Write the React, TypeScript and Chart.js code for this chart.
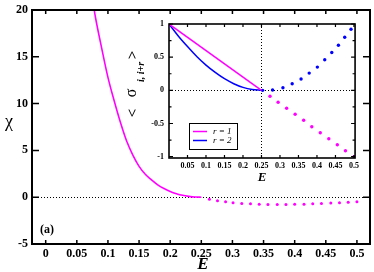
import React, { useEffect, useRef } from "react";
import { Chart, registerables } from "chart.js";
Chart.register(...registerables);

// ---- main panel data ----
const chiLineE = [0.075, 0.08, 0.09, 0.1, 0.11, 0.12, 0.13, 0.14, 0.15, 0.16, 0.17, 0.18, 0.19, 0.2, 0.21, 0.22, 0.23, 0.24, 0.25];
const chiLineV = [21.2, 19.2, 15.9, 12.8, 10.3, 8.0, 6.0, 4.5, 3.3, 2.45, 1.85, 1.32, 0.93, 0.62, 0.38, 0.2, 0.09, 0.02, 0];
const chiDotE = [0.263, 0.276, 0.289, 0.301, 0.315, 0.329, 0.343, 0.357, 0.372, 0.386, 0.4, 0.415, 0.429, 0.443, 0.458, 0.472, 0.486, 0.5];
const chiDotV = [-0.21, -0.39, -0.49, -0.6, -0.67, -0.7, -0.74, -0.77, -0.77, -0.77, -0.74, -0.74, -0.7, -0.67, -0.63, -0.6, -0.53, -0.49];
const mainXTicks = [0, 0.05, 0.1, 0.15, 0.2, 0.25, 0.3, 0.35, 0.4, 0.45, 0.5];
const mainXLabels = ["0", "0.05", "0.1", "0.15", "0.2", "0.25", "0.3", "0.35", "0.4", "0.45", "0.5"];
const mainYTicks = [-5, 0, 5, 10, 15, 20];
const mainYLabels = ["-5", "0", "5", "10", "15", "20"];

// ---- inset data ----
const r1LineE = [0, 0.25];
const r1LineV = [1, 0];
const r2LineE = [0, 0.025, 0.05, 0.075, 0.1, 0.125, 0.15, 0.175, 0.2, 0.225, 0.25];
const r2LineV = [1, 0.82, 0.66, 0.51, 0.38, 0.27, 0.175, 0.1, 0.045, 0.012, 0];
const r1DotE = [0.273, 0.295, 0.318, 0.341, 0.364, 0.386, 0.409, 0.432, 0.455, 0.477, 0.5];
const r1DotV = [-0.09, -0.18, -0.27, -0.36, -0.45, -0.55, -0.64, -0.73, -0.82, -0.91, -1.0];
const r2DotE = [0.253, 0.28, 0.308, 0.333, 0.357, 0.379, 0.401, 0.421, 0.44, 0.458, 0.475, 0.492];
const r2DotV = [0, 0.005, 0.04, 0.1, 0.17, 0.26, 0.35, 0.46, 0.57, 0.68, 0.8, 0.92];
const insetXTicks = [0.05, 0.1, 0.15, 0.2, 0.25, 0.3, 0.35, 0.4, 0.45, 0.5];
const insetXLabels = ["0.05", "0.1", "0.15", "0.2", "0.25", "0.3", "0.35", "0.4", "0.45", "0.5"];
const insetYTicks = [-1, -0.5, 0, 0.5, 1];
const insetYLabels = ["-1", "-0.5", "0", "0.5", "1"];
const insetYMinor = [-0.75, -0.25, 0.25, 0.75];
const legendLabels = ["r = 1", "r = 2"];

const MAGENTA = "#ff00ff";
const BLUE = "#0000ff";
const SERIF = "'Liberation Serif', 'Times New Roman', serif";

const pts = (xs: number[], ys: number[]) => xs.map((x, i) => ({ x, y: ys[i] }));

function framePlugin(cfg: any) {
  return {
    id: "frame_" + cfg.name,
    beforeDatasetsDraw(chart: any) {
      const { ctx, chartArea: a, scales } = chart;
      const x = scales.x, y = scales.y;
      ctx.save();
      ctx.strokeStyle = "#000";
      ctx.lineWidth = 1;
      ctx.setLineDash([1, 2]);
      ctx.beginPath();
      const y0 = Math.round(y.getPixelForValue(0)) + 0.5;
      ctx.moveTo(a.left, y0);
      ctx.lineTo(a.right, y0);
      if (cfg.vline !== undefined) {
        const xv = Math.round(x.getPixelForValue(cfg.vline)) + 0.5;
        ctx.moveTo(xv, a.top);
        ctx.lineTo(xv, a.bottom);
      }
      ctx.stroke();
      ctx.restore();
    },
    afterDatasetsDraw(chart: any) {
      const { ctx, chartArea: a, scales } = chart;
      const x = scales.x, y = scales.y;
      ctx.save();
      ctx.strokeStyle = "#000";
      ctx.lineWidth = cfg.tickW;
      ctx.beginPath();
      for (const v of cfg.xTicks) {
        const px = x.getPixelForValue(v);
        ctx.moveTo(px, a.bottom); ctx.lineTo(px, a.bottom - cfg.xLen);
        ctx.moveTo(px, a.top); ctx.lineTo(px, a.top + cfg.xLen);
      }
      for (const v of cfg.yTicks) {
        const py = y.getPixelForValue(v);
        ctx.moveTo(a.left, py); ctx.lineTo(a.left + cfg.yLen, py);
        ctx.moveTo(a.right, py); ctx.lineTo(a.right - cfg.yLen, py);
      }
      for (const v of cfg.yMinor || []) {
        const py = y.getPixelForValue(v);
        ctx.moveTo(a.left, py); ctx.lineTo(a.left + cfg.minorLen, py);
        ctx.moveTo(a.right, py); ctx.lineTo(a.right - cfg.minorLen, py);
      }
      ctx.stroke();
      ctx.lineWidth = cfg.frameW;
      ctx.strokeRect(a.left, a.top, a.right - a.left, a.bottom - a.top);
      ctx.restore();
    },
  };
}

const mainText = {
  id: "mainText",
  afterDraw(chart: any) {
    const { ctx, chartArea: a } = chart;
    ctx.save();
    ctx.fillStyle = "#000";
    ctx.textAlign = "center";
    ctx.textBaseline = "middle";
    ctx.font = `18px ${SERIF}`;
    ctx.fillText("χ", 9, 122);
    ctx.font = `italic bold 17px ${SERIF}`;
    ctx.fillText("E", (a.left + a.right) / 2 + 2, 265);
    ctx.font = `bold 12px ${SERIF}`;
    ctx.fillText("(a)", 47, 230);
    ctx.restore();
  },
};

const insetText = {
  id: "insetText",
  afterDraw(chart: any) {
    const { ctx, chartArea: a } = chart;
    ctx.save();
    ctx.fillStyle = "#000";
    ctx.textAlign = "center";
    ctx.textBaseline = "middle";
    ctx.font = `italic bold 13px ${SERIF}`;
    ctx.fillText("E", (a.left + a.right) / 2, 163);
    // rotated y title: < σ_{i, i+r} >
    const piece = (t: string, px: number, py: number, font: string) => {
      ctx.save();
      ctx.translate(px, py);
      ctx.rotate(-Math.PI / 2);
      ctx.font = font;
      ctx.fillText(t, 0, 0);
      ctx.restore();
    };
    piece("<", 15, 98, `bold 15px ${SERIF}`);
    piece("σ", 14, 78, `16px ${SERIF}`);
    piece("i, i+r", 23, 57, `italic bold 10px ${SERIF}`);
    piece(">", 15, 40, `bold 15px ${SERIF}`);
    // legend box
    const bx = 71, by = 108, bw = 48, bh = 26;
    ctx.fillStyle = "#fff";
    ctx.fillRect(bx, by, bw, bh);
    ctx.strokeStyle = "#000";
    ctx.lineWidth = 1;
    ctx.strokeRect(bx + 0.5, by + 0.5, bw, bh);
    const cols = [MAGENTA, BLUE];
    legendLabels.forEach((lab, i) => {
      const ly = by + 8.5 + i * 9;
      ctx.strokeStyle = cols[i];
      ctx.lineWidth = 1.5;
      ctx.beginPath();
      ctx.moveTo(bx + 4, ly);
      ctx.lineTo(bx + 18, ly);
      ctx.stroke();
      ctx.fillStyle = "#000";
      ctx.textAlign = "left";
      ctx.font = `italic 9px ${SERIF}`;
      ctx.fillText(lab, bx + 24, ly + 0.5);
    });
    ctx.restore();
  },
};

export default function App() {
  const mainRef = useRef<HTMLCanvasElement>(null);
  const insetRef = useRef<HTMLCanvasElement>(null);

  useEffect(() => {
    const tickFont = { family: SERIF, weight: "bold" as const, size: 12, lineHeight: 1 };
    const main = new Chart(mainRef.current!, {
      type: "scatter",
      data: {
        datasets: [
          {
            data: pts(chiLineE, chiLineV),
            showLine: true,
            borderColor: MAGENTA,
            borderWidth: 1.6,
            pointRadius: 0,
            cubicInterpolationMode: "monotone",
          },
          {
            data: pts(chiDotE, chiDotV),
            showLine: false,
            pointRadius: 1.5,
            pointBorderWidth: 0,
            backgroundColor: MAGENTA,
            borderColor: MAGENTA,
          },
        ],
      },
      options: {
        animation: false,
        responsive: false,
        devicePixelRatio: 1,
        layout: { padding: { top: 6, right: 1.5, left: 0, bottom: 0 } },
        plugins: { legend: { display: false }, tooltip: { enabled: false } },
        scales: {
          x: {
            type: "linear",
            min: -0.022,
            max: 0.521,
            grid: { display: false, drawTicks: false },
            border: { display: false },
            afterBuildTicks: (s: any) => { s.ticks = mainXTicks.map((v) => ({ value: v })); },
            afterFit: (s: any) => { s.height = 28; },
            ticks: {
              font: tickFont,
              color: "#000",
              padding: 4,
              maxRotation: 0,
              autoSkip: false,
              callback: (_v: any, i: number) => mainXLabels[i],
            },
          },
          y: {
            type: "linear",
            min: -5,
            max: 20,
            grid: { display: false, drawTicks: false },
            border: { display: false },
            afterBuildTicks: (s: any) => { s.ticks = mainYTicks.map((v) => ({ value: v })); },
            afterFit: (s: any) => { s.width = 32; },
            ticks: {
              font: tickFont,
              color: "#000",
              padding: 4,
              autoSkip: false,
              callback: (_v: any, i: number) => mainYLabels[i],
            },
          },
        },
      } as any,
      plugins: [
        framePlugin({ name: "main", xTicks: mainXTicks, yTicks: mainYTicks, xLen: 4, yLen: 7, tickW: 1.5, frameW: 2 }),
        mainText,
      ],
    });

    const insetFont = { family: SERIF, weight: "bold" as const, size: 8, lineHeight: 1 };
    const inset = new Chart(insetRef.current!, {
      type: "scatter",
      data: {
        datasets: [
          {
            data: pts(r1LineE, r1LineV),
            showLine: true,
            borderColor: MAGENTA,
            borderWidth: 1.5,
            pointRadius: 0,
          },
          {
            data: pts(r2LineE, r2LineV),
            showLine: true,
            borderColor: BLUE,
            borderWidth: 1.5,
            pointRadius: 0,
            cubicInterpolationMode: "monotone",
          },
          {
            data: pts(r1DotE, r1DotV),
            showLine: false,
            pointRadius: 1.7,
            pointBorderWidth: 0,
            backgroundColor: MAGENTA,
            borderColor: MAGENTA,
          },
          {
            data: pts(r2DotE, r2DotV),
            showLine: false,
            pointRadius: 1.7,
            pointBorderWidth: 0,
            backgroundColor: BLUE,
            borderColor: BLUE,
          },
        ],
      },
      options: {
        animation: false,
        responsive: false,
        devicePixelRatio: 1,
        layout: { padding: { top: 8, right: 7, left: 0, bottom: 0 } },
        plugins: { legend: { display: false }, tooltip: { enabled: false } },
        scales: {
          x: {
            type: "linear",
            min: 0,
            max: 0.503,
            grid: { display: false, drawTicks: false },
            border: { display: false },
            afterBuildTicks: (s: any) => { s.ticks = insetXTicks.map((v) => ({ value: v })); },
            afterFit: (s: any) => { s.height = 29; },
            ticks: {
              font: insetFont,
              color: "#000",
              padding: 4,
              maxRotation: 0,
              autoSkip: false,
              callback: (_v: any, i: number) => insetXLabels[i],
            },
          },
          y: {
            type: "linear",
            min: -1.02,
            max: 1,
            grid: { display: false, drawTicks: false },
            border: { display: false },
            afterBuildTicks: (s: any) => { s.ticks = insetYTicks.map((v) => ({ value: v })); },
            afterFit: (s: any) => { s.width = 51; },
            ticks: {
              font: insetFont,
              color: "#000",
              padding: 5,
              autoSkip: false,
              callback: (_v: any, i: number) => insetYLabels[i],
            },
          },
        },
      } as any,
      plugins: [
        framePlugin({
          name: "inset", xTicks: insetXTicks, yTicks: insetYTicks, yMinor: insetYMinor,
          xLen: 3, yLen: 4, minorLen: 2.5, tickW: 1.2, frameW: 1.6, vline: 0.25,
        }),
        insetText,
      ],
    });

    return () => {
      main.destroy();
      inset.destroy();
    };
  }, []);

  return (
    <div style={{ position: "fixed", left: 0, top: 0, width: 374, height: 272, background: "#fff" }}>
      <canvas ref={mainRef} width={374} height={272} style={{ position: "absolute", left: 0, top: 0 }} />
      <canvas ref={insetRef} width={245} height={172} style={{ position: "absolute", left: 118, top: 15 }} />
    </div>
  );
}
